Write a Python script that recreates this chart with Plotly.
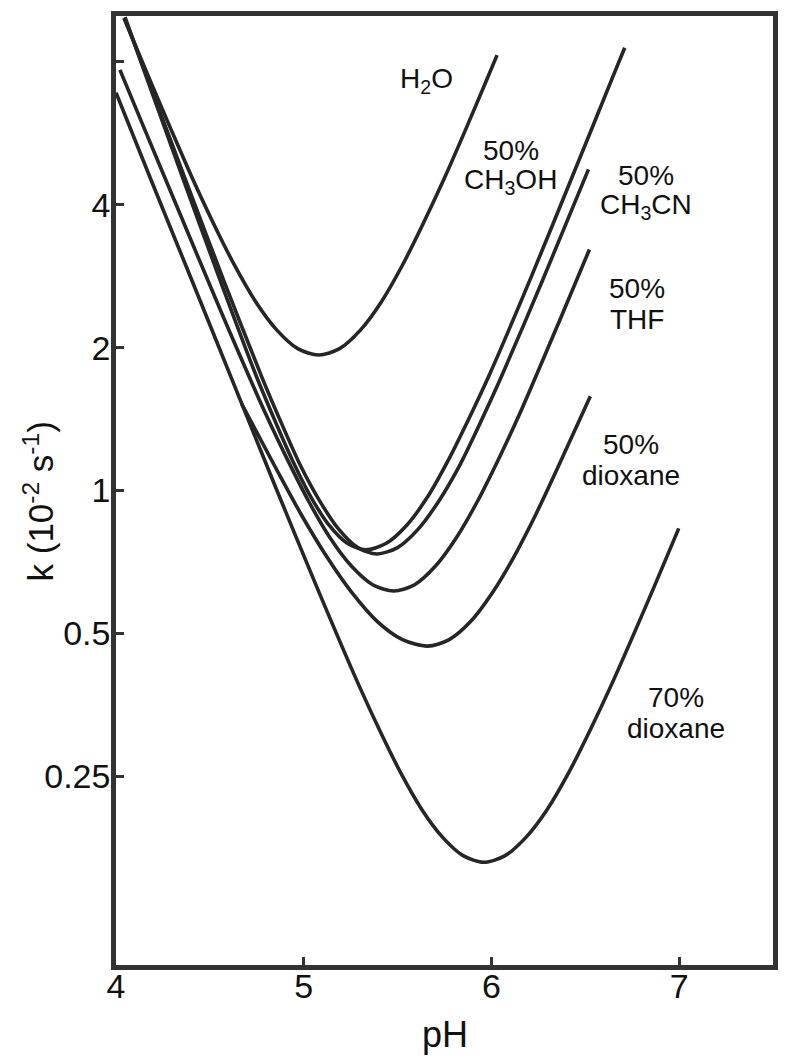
import math
import plotly.graph_objects as go

# ---- data (pH, k in 10^-2 s^-1) ----
h2o_ph = [4.042, 4.185, 4.297, 4.408, 4.520, 4.632, 4.744, 4.856, 4.968, 5.080,
          5.191, 5.303, 5.414, 5.525, 5.636, 5.748, 5.859, 5.970, 6.030]
h2o_k = [9.90, 7.26, 5.72, 4.54, 3.65, 2.98, 2.50, 2.18, 1.99, 1.93,
         1.99, 2.18, 2.50, 2.98, 3.65, 4.54, 5.72, 7.26, 8.27]

meoh_ph = [4.048, 4.156, 4.352, 4.548, 4.743, 4.841, 4.939, 5.037, 5.134, 5.232, 5.330,
           5.440, 5.550, 5.661, 5.771, 5.881, 5.991, 6.212, 6.432, 6.653, 6.710]
meoh_k = [9.95, 7.55, 4.60, 2.82, 1.76, 1.42, 1.16, 0.971, 0.846, 0.774, 0.750,
          0.774, 0.846, 0.971, 1.16, 1.42, 1.76, 2.82, 4.60, 7.55, 8.57]

mecn_ph = [4.053, 4.167, 4.371, 4.574, 4.778, 4.880, 4.982, 5.084, 5.186, 5.288, 5.390,
           5.500, 5.610, 5.721, 5.831, 5.941, 6.051, 6.272, 6.517]
mecn_k = [9.76, 7.40, 4.51, 2.77, 1.73, 1.39, 1.13, 0.952, 0.829, 0.758, 0.735,
          0.758, 0.829, 0.952, 1.13, 1.39, 1.73, 2.77, 4.75]

thf_ph = [4.021, 4.121, 4.348, 4.574, 4.801, 4.914, 5.027, 5.140, 5.254, 5.367, 5.480,
          5.591, 5.702, 5.813, 5.925, 6.036, 6.147, 6.369, 6.522]
thf_k = [7.70, 6.18, 3.77, 2.31, 1.44, 1.16, 0.948, 0.795, 0.693, 0.633, 0.614,
         0.633, 0.693, 0.795, 0.948, 1.16, 1.44, 2.31, 3.22]

diox50_ph = [4.670, 4.854, 4.988, 5.123, 5.257, 5.391, 5.526, 5.660,
             5.775, 5.890, 6.005, 6.120, 6.235, 6.350, 6.527]
diox50_k = [1.52, 1.11, 0.888, 0.725, 0.609, 0.530, 0.485, 0.470,
            0.485, 0.530, 0.609, 0.725, 0.888, 1.11, 1.58]

diox70_ph = [4.000, 4.189, 4.411, 4.632, 4.853, 5.075, 5.296, 5.407, 5.517, 5.628, 5.739, 5.849, 5.960,
             6.073, 6.185, 6.298, 6.411, 6.523, 6.636, 6.861, 6.998]
diox70_k = [6.89, 4.49, 2.73, 1.66, 1.01, 0.619, 0.387, 0.311, 0.254, 0.213, 0.186, 0.170, 0.1646,
            0.170, 0.186, 0.213, 0.254, 0.311, 0.387, 0.619, 0.832]

x_ticks = [4, 5, 6, 7]
y_ticks = [0.25, 0.5, 1, 2, 4, 8]
y_tick_text = ["0.25", "0.5", "1", "2", "4", ""]

labels = ["H<sub>2</sub>O", "50%<br>CH<sub>3</sub>OH", "50%<br>CH<sub>3</sub>CN",
          "50%<br>THF", "50%<br>dioxane", "70%<br>dioxane"]
label_ph = [5.655, 6.104, 6.823, 6.776, 6.744, 6.982]
label_k = [7.30, 4.82, 4.27, 2.47, 1.16, 0.340]

LINE = "#262626"
FONT = "Liberation Sans, Arial, sans-serif"

fig = go.Figure()
for xs, ys in [(h2o_ph, h2o_k), (meoh_ph, meoh_k), (mecn_ph, mecn_k),
               (thf_ph, thf_k), (diox50_ph, diox50_k), (diox70_ph, diox70_k)]:
    fig.add_trace(go.Scatter(x=xs, y=ys, mode="lines",
                             line=dict(color=LINE, width=3.6, shape="spline", smoothing=0.8),
                             showlegend=False, hoverinfo="skip"))

LINE_GAP = 31  # px between the two lines of a label
for t, xv, yv in zip(labels, label_ph, label_k):
    parts = t.split("<br>")
    n = len(parts)
    for i, p in enumerate(parts):
        shift = ((n - 1) / 2 - i) * LINE_GAP
        fig.add_annotation(x=xv, y=math.log10(yv), text=p, showarrow=False, xref="x", yref="y",
                           yshift=shift, xanchor="center", yanchor="middle",
                           font=dict(family=FONT, size=28, color="#111"))

fig.add_annotation(xref="paper", yref="paper", x=-0.1178, y=0.488,
                   xanchor="center", yanchor="middle",
                   text="k (10<sup>-2</sup> s<sup>-1</sup>)", textangle=-90, showarrow=False,
                   font=dict(family=FONT, size=35, color="#111"))
fig.add_annotation(xref="paper", yref="paper", x=0.5, y=-0.0735,
                   xanchor="center", yanchor="middle",
                   text="pH", showarrow=False,
                   font=dict(family=FONT, size=36, color="#111"))

# page body has an 8px margin: figure sized/offset so the plot frame lands where the reference has it
fig.update_layout(
    width=773, height=1050,
    margin=dict(l=108, r=3, t=5, b=93),
    paper_bgcolor="white", plot_bgcolor="white",
    font=dict(family=FONT, color="#111"),
    xaxis=dict(range=[4, 7.5], tickvals=x_ticks, ticks="inside", ticklen=8, tickwidth=3,
               tickcolor="#333", showline=True, linecolor="#333", linewidth=4.5, mirror=True,
               showgrid=False, zeroline=False, ticklabelstandoff=-13,
               tickfont=dict(family=FONT, size=34, color="#111")),
    yaxis=dict(type="log", range=[-1, 1], tickvals=y_ticks, ticktext=y_tick_text,
               ticks="inside", ticklen=8, tickwidth=3, tickcolor="#333",
               showline=True, linecolor="#333", linewidth=4.5, mirror=True,
               showgrid=False, zeroline=False, ticklabelstandoff=-6,
               tickfont=dict(family=FONT, size=34, color="#111")),
)

fig.write_html("out.html")
